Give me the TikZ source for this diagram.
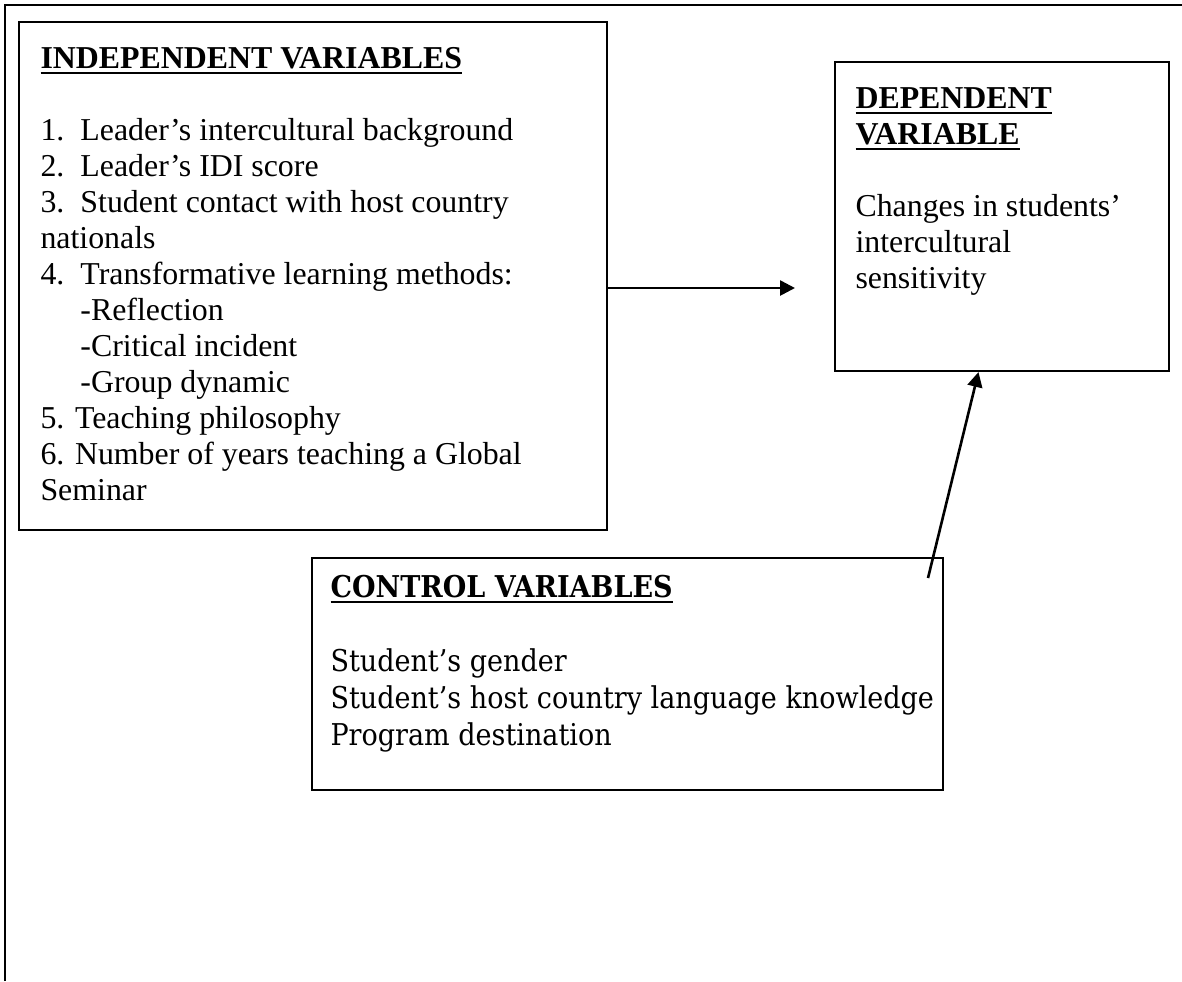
\documentclass[tikz,border=0pt]{standalone}
\usepackage{fontspec}
\setmainfont{Liberation Serif}
\newfontfamily\ctrlfont{DejaVu Serif}[FakeStretch=0.9]
\usetikzlibrary{arrows.meta,calc,fit}

% bold heading with a heavy underline
\newcommand{\ulhead}[1]{\setbox0\hbox{\bfseries #1}\rlap{\rule[-1.9pt]{\wd0}{0.75pt}}\box0}

\tikzset{
	varbox/.style={draw, line width=0.8pt, inner sep=0pt},
	vartext/.style={anchor=north west, inner sep=0pt, align=left, font=\fontsize{12.2}{13.8}\selectfont},
	ctrltext/.style={anchor=north west, inner sep=0pt, align=left, font=\ctrlfont\fontsize{11.5}{14.17}\selectfont},
	link/.style={line width=1pt, -{Triangle[length=5.7pt,width=5.7pt]}}
}

\begin{document}
\begin{tikzpicture}[x=0.383pt, y=-0.383pt]
	\useasboundingbox (0,0) rectangle (1182,981);
	\draw[line width=1.1pt] (5,981) -- (5,5) -- (1182,5);

	% boxes
	\node[varbox, fit={(19,22) (607,530)}]		(indep)	{};
	\node[varbox, fit={(835,62) (1169,371)}]	(dep)	{};
	\node[varbox, fit={(312,558) (943,790)}]	(ctrl)	{};

	% texts
	\node[vartext] (indeptext) at (40,42.8) {\strut\ulhead{INDEPENDENT VARIABLES}\\[13.8pt]
		\makebox[15.3pt][l]{1.}Leader’s intercultural background\\
		\makebox[15.3pt][l]{2.}Leader’s IDI score\\
		\makebox[15.3pt][l]{3.}Student contact with host country\\
		nationals\\
		\makebox[15.3pt][l]{4.}Transformative learning methods:\\
		\hspace*{15.3pt}-Reflection\\
		\hspace*{15.3pt}-Critical incident\\
		\hspace*{15.3pt}-Group dynamic\\
		5. Teaching philosophy\\
		6. Number of years teaching a Global\\
		Seminar};
	\node[vartext] (deptext) at (855,82.8) {\strut\ulhead{DEPENDENT}\\\ulhead{VARIABLE}\\[13.8pt]
		Changes in students’\\
		intercultural\\
		sensitivity};
	\node[ctrltext] (ctrltext) at (330,571.1) {\strut\ulhead{CONTROL VARIABLES}\\[14.17pt]
		Student’s gender\\
		Student’s host country language knowledge\\
		Program destination};

	% arrows
	\coordinate (depin)		at (795,288);
	\coordinate (ctrlout)	at (928,578);
	\draw[link] (indep.east |- depin) -- (depin);
	\draw[link] (ctrlout) -- ($(dep.south west)!0.43!(dep.south east)$);
\end{tikzpicture}
\end{document}
